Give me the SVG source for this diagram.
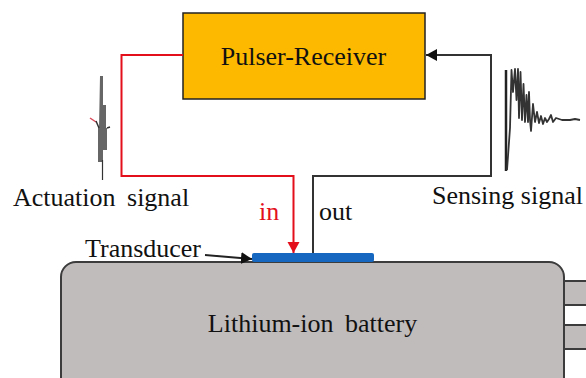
<svg xmlns="http://www.w3.org/2000/svg" width="586" height="378" viewBox="0 0 586 378">
<style>
text{font-family:"Liberation Serif","Times New Roman",serif;font-size:26px;fill:#111}
.w{fill:none;stroke:#333;stroke-linejoin:round}
.b{fill:#c1bcbc;stroke:#3c3c3c;stroke-width:2}
</style>
<defs>
<marker id="ar" markerUnits="userSpaceOnUse" markerWidth="12" markerHeight="14" refX="11" refY="6" orient="auto"><path d="M0 0L11 6L0 12Z" fill="#e3101c"/></marker>
<marker id="ak" markerUnits="userSpaceOnUse" markerWidth="12" markerHeight="14" refX="11" refY="6" orient="auto"><path d="M0 0L11 6L0 12Z" fill="#111"/></marker>
</defs>
<rect width="586" height="378" fill="#fff"/>
<g id="battery">
<rect class="b" x="564" y="281" width="30" height="24"/>
<rect class="b" x="564" y="325" width="30" height="24"/>
<rect class="b" x="61" y="262" width="503" height="130" rx="15"/>
<text x="312.500" y="332" text-anchor="middle" word-spacing="5">Lithium-ion battery</text>
</g>
<g id="transducer"><rect x="252" y="253" width="122" height="9" rx="2" fill="#1667bf"/></g>
<g id="pulser-receiver">
<rect x="183" y="13" width="242" height="86" fill="#fdb900" stroke="#222" stroke-width="1.500"/>
<text x="303.500" y="65" text-anchor="middle">Pulser-Receiver</text>
</g>
<g id="connectors" fill="none">
<path d="M183 55H121.500V176H293.500V253" stroke="#e3101c" stroke-width="2" marker-end="url(#ar)"/>
<path d="M313 253V176H491V55H426" stroke="#333" stroke-width="2" marker-end="url(#ak)"/>
<path d="M205 255L252 259" stroke="#222" stroke-width="1.800" marker-end="url(#ak)"/>
</g>
<g id="actuation-waveform">
<path d="M100 76H103V105H106V128H107V150H103V178H102V162H98V128H99Z" fill="#666"/>
<path d="M102.500 160V180" stroke="#333" stroke-width="1.200"/>
<path d="M90 118L96 122" stroke="#d94a5a" stroke-width="1.500"/>
<path d="M96 121L99 128M107 128L110 127" class="w" stroke-width="1.500"/>
</g>
<g id="sensing-waveform">
<path d="M506 70V171" stroke="#222" stroke-width="2.500"/>
<path d="M507 170L510 128L511.500 70L513 92L515 69L516.500 100L518 69L519 118L520.500 72L522 120L523.500 84L525 122L526.500 95L528 122L529 92L530 120L531 131L533 104L535 122L537 112L539 123L541 116L543 124L545 118L547 122L549 119L551 115L553 122L556 118L562 120L570 120L575 119L580 120" class="w" stroke-width="1.800"/>
</g>
<g id="labels">
<text x="13" y="206" word-spacing="5">Actuation signal</text>
<text x="432" y="204">Sensing signal</text>
<text x="259" y="220" style="fill:#e3101c">in</text>
<text x="319" y="220">out</text>
<text x="85" y="257">Transducer</text>
</g>
</svg>
